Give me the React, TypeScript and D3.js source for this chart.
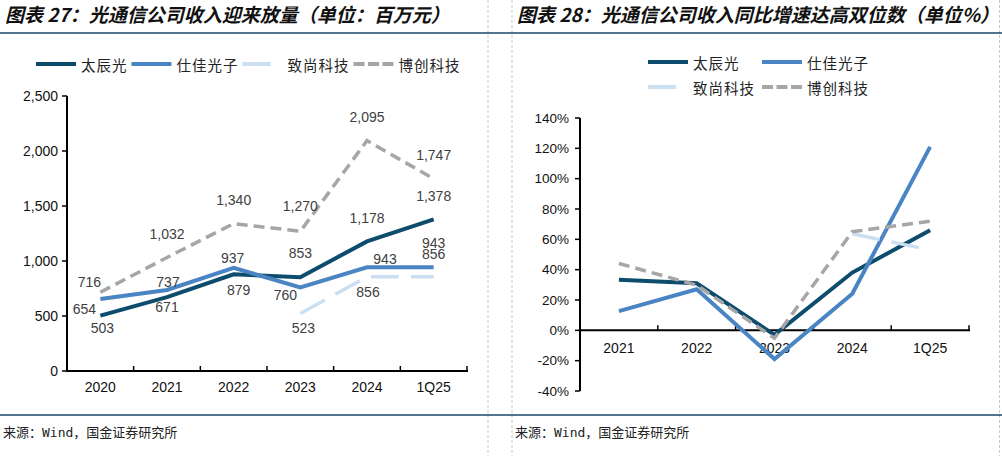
import React from "react";
import * as d3 from "d3";

// ---- Data ----
const leftCategories = ["2020", "2021", "2022", "2023", "2024", "1Q25"];
const leftTicks = [0, 500, 1000, 1500, 2000, 2500];
const taichenRevenue: (number | null)[] = [503, 671, 879, 853, 1178, 1378];
const shijiaRevenue: (number | null)[] = [654, 737, 937, 760, 943, 943];
const zhishangRevenue: (number | null)[] = [null, null, null, 523, 856, 856];
const bochuangRevenue: (number | null)[] = [716, 1032, 1340, 1270, 2095, 1747];

const rightCategories = ["2021", "2022", "2023", "2024", "1Q25"];
const rightTicks = [-40, -20, 0, 20, 40, 60, 80, 100, 120, 140];
const taichenGrowth: (number | null)[] = [33.4, 31.0, -3.0, 38.1, 66];
const shijiaGrowth: (number | null)[] = [12.7, 27.1, -18.9, 24.1, 121];
const zhishangGrowth: (number | null)[] = [null, null, null, 63.7, 53];
const bochuangGrowth: (number | null)[] = [44.1, 29.8, -5.2, 65.0, 72];

const seriesNames = ["太辰光", "仕佳光子", "致尚科技", "博创科技"];

// ---- Styles ----
const COLORS = ["#0E4C6D", "#4A85C3", "#CADFF1", "#A6A6A6"];
const DASHES = [undefined, undefined, "28,12", "11,6"];
const LEGEND_DASHES = [undefined, undefined, "28,12", "11,3.5"];
const LABEL_COLOR = "#404040";
const SANS = "'Liberation Sans', Arial, sans-serif";
const CJK = "'Noto Sans CJK SC', sans-serif";

// label offsets (layout only), relative to each point
const leftLabelOffsets: [number, number][][] = [
  [[2, 12], [0, 10], [5, 16], [0, -24], [0, -23], [0, -23]],
  [[-16, 10], [1, -8], [-1, -10], [-15, 8], [18, -8], [0, -24]],
  [[0, 0], [0, 0], [0, 0], [3, 15], [1, 15], [0, -23]],
  [[-11, -10], [0, -23], [0, -24], [0, -25], [0, -24], [0, -24]],
];

function Legend({ x, y, items }: { x: number; y: number; items: number[] }) {
  let cx = x;
  return (
    <g>
      {items.map((i) => {
        const gx = cx;
        const w = 40 + 5 + seriesNames[i].length * 15.5 + 4;
        cx += w;
        return (
          <g key={i}>
            <line x1={gx} x2={gx + 40} y1={y} y2={y} stroke={COLORS[i]} strokeWidth={4}
              strokeDasharray={LEGEND_DASHES[i]} />
            <text x={gx + 45} y={y} dominantBaseline="central" fontFamily={CJK} fontSize={14.5}
              letterSpacing={1} fill="#222">{seriesNames[i]}</text>
          </g>
        );
      })}
    </g>
  );
}

function LegendItem({ x, y, i }: { x: number; y: number; i: number }) {
  return (
    <g>
      <line x1={x} x2={x + 40} y1={y} y2={y} stroke={COLORS[i]} strokeWidth={4}
        strokeDasharray={LEGEND_DASHES[i]} />
      <text x={x + 45} y={y} dominantBaseline="central" fontFamily={CJK} fontSize={14.5}
        letterSpacing={1} fill="#222">{seriesNames[i]}</text>
    </g>
  );
}

function LeftChart() {
  const x = d3.scaleBand<string>().domain(leftCategories).range([67, 467]);
  const y = d3.scaleLinear().domain([0, 2500]).range([371, 96]);
  const cx = (c: string) => (x(c) ?? 0) + x.bandwidth() / 2;
  const series = [taichenRevenue, shijiaRevenue, zhishangRevenue, bochuangRevenue];
  const line = d3
    .line<number | null>()
    .defined((d) => d != null)
    .x((_, i) => cx(leftCategories[i]))
    .y((d) => y(d as number));
  return (
    <g>
      {/* y axis */}
      <line x1={67} x2={67} y1={y(2500)} y2={y(0)} stroke="#000" strokeWidth={2} />
      {leftTicks.map((t) => (
        <g key={t}>
          <line x1={62} x2={67} y1={y(t)} y2={y(t)} stroke="#000" strokeWidth={1.5} />
          <text x={58} y={y(t)} textAnchor="end" dominantBaseline="central" fontFamily={SANS}
            fontSize={14} fill="#111">{d3.format(",")(t)}</text>
        </g>
      ))}
      {/* x axis */}
      <line x1={66} x2={468} y1={y(0)} y2={y(0)} stroke="#000" strokeWidth={2} />
      {leftCategories.map((c) => (
        <g key={c}>
          <line x1={(x(c) ?? 0) + x.bandwidth()} x2={(x(c) ?? 0) + x.bandwidth()} y1={y(0)} y2={y(0) - 5}
            stroke="#000" strokeWidth={1.5} />
          <text x={cx(c)} y={387} textAnchor="middle" dominantBaseline="central" fontFamily={SANS}
            fontSize={14} fill="#111">{c}</text>
        </g>
      ))}
      {series.map((s, i) => (
        <path key={i} d={line(s) ?? ""} fill="none" stroke={COLORS[i]} strokeWidth={i >= 2 ? 3.5 : 4}
          strokeDasharray={DASHES[i]} strokeLinejoin="miter" />
      ))}
      {series.map((s, i) =>
        s.map((v, j) =>
          v == null ? null : (
            <text key={`${i}-${j}`} x={cx(leftCategories[j]) + leftLabelOffsets[i][j][0]}
              y={y(v) + leftLabelOffsets[i][j][1]} textAnchor="middle" dominantBaseline="central"
              fontFamily={SANS} fontSize={14} fill={LABEL_COLOR}>{d3.format(",")(v)}</text>
          )
        )
      )}
    </g>
  );
}

function RightChart() {
  const x = d3.scaleBand<string>().domain(rightCategories).range([580, 969]);
  const y = d3.scaleLinear().domain([-40, 140]).range([391, 118]);
  const cx = (c: string) => (x(c) ?? 0) + x.bandwidth() / 2;
  const series = [taichenGrowth, shijiaGrowth, zhishangGrowth, bochuangGrowth];
  const line = d3
    .line<number | null>()
    .defined((d) => d != null)
    .x((_, i) => cx(rightCategories[i]))
    .y((d) => y(d as number));
  return (
    <g>
      <line x1={580} x2={580} y1={y(140)} y2={y(-40)} stroke="#000" strokeWidth={2} />
      {rightTicks.map((t) => (
        <g key={t}>
          <line x1={575} x2={580} y1={y(t)} y2={y(t)} stroke="#000" strokeWidth={1.5} />
          <text x={569} y={y(t)} textAnchor="end" dominantBaseline="central" fontFamily={SANS}
            fontSize={13.5} fill="#111">{t + "%"}</text>
        </g>
      ))}
      {rightCategories.map((c) => (
        <text key={c} x={cx(c)} y={348} textAnchor="middle" dominantBaseline="central" fontFamily={SANS}
          fontSize={14} fill="#111">{c}</text>
      ))}
      <line x1={579} x2={970} y1={y(0)} y2={y(0)} stroke="#000" strokeWidth={2} />
      {rightCategories.map((c) => (
        <line key={c} x1={(x(c) ?? 0) + x.bandwidth()} x2={(x(c) ?? 0) + x.bandwidth()} y1={y(0)} y2={y(0) - 5}
          stroke="#000" strokeWidth={1.5} />
      ))}
      {series.map((s, i) => (
        <path key={i} d={line(s) ?? ""} fill="none" stroke={COLORS[i]} strokeWidth={i >= 2 ? 3.5 : 4}
          strokeDasharray={DASHES[i]} strokeLinejoin="miter" />
      ))}
    </g>
  );
}

export default function App() {
  return (
    <svg width={1002} height={456} style={{ position: "absolute", left: 0, top: 0, background: "#fff" }}>
      <rect width={1002} height={456} fill="#fff" />
      {/* separators */}
      {[488, 512, 999.5].map((sx) => (
        <line key={sx} x1={sx} x2={sx} y1={0} y2={456} stroke="#c8c8c8" strokeWidth={1} strokeDasharray="3,2" />
      ))}
      {/* titles */}
      <text x={5} y={22} fontFamily={CJK} fontWeight="bold" fontStyle="italic" fontSize={19} fill="#111">
        图表 27：光通信公司收入迎来放量（单位：百万元）
      </text>
      <text x={517} y={22} fontFamily={CJK} fontWeight="bold" fontStyle="italic" fontSize={19} fill="#111">
        图表 28：光通信公司收入同比增速达高双位数（单位%）
      </text>
      <line x1={0} x2={1002} y1={33} y2={33} stroke="#1B4466" strokeWidth={1.5} />
      <line x1={0} x2={1002} y1={415} y2={415} stroke="#1B4466" strokeWidth={1.5} />
      {/* legends */}
      <Legend x={36} y={64} items={[0, 1, 2, 3]} />
      <LegendItem x={648} y={62} i={0} />
      <LegendItem x={762} y={62} i={1} />
      <LegendItem x={648} y={87} i={2} />
      <LegendItem x={762} y={87} i={3} />
      <LeftChart />
      <RightChart />
      {/* footers */}
      <text x={3} y={432} dominantBaseline="central" fontFamily={"'DejaVu Sans Mono', " + CJK} fontSize={13}
        fill="#222">来源：Wind，国金证券研究所</text>
      <text x={515} y={432} dominantBaseline="central" fontFamily={"'DejaVu Sans Mono', " + CJK} fontSize={13}
        fill="#222">来源：Wind，国金证券研究所</text>
    </svg>
  );
}
